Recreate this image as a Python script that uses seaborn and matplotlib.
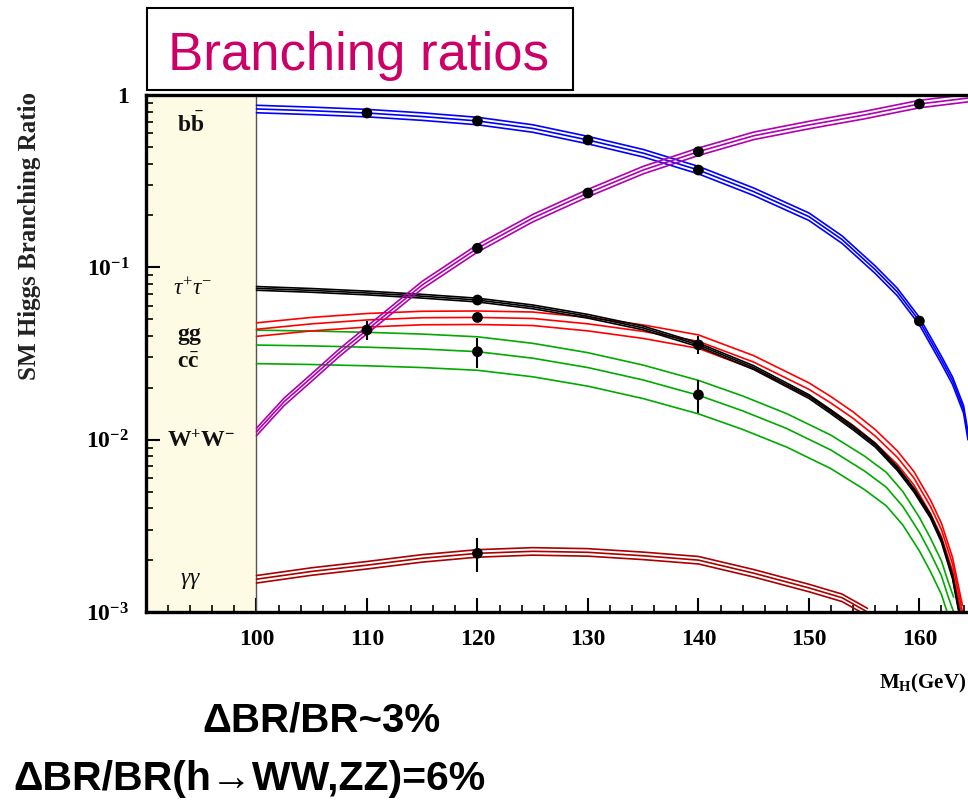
import matplotlib
matplotlib.use("Agg")
import matplotlib.pyplot as plt
import matplotlib.ticker as mticker
from matplotlib.patches import Rectangle
import seaborn as sns
import numpy as np
import pandas as pd

# --- curves (central values) ---
m_bb = [100, 105, 110, 115, 120, 125, 130, 135, 140, 145, 150, 153, 156, 158, 160, 162, 163, 164, 164.4]
br_bb = [0.83, 0.81, 0.786, 0.75, 0.707, 0.64, 0.548, 0.46, 0.367, 0.275, 0.197, 0.145, 0.097, 0.072, 0.0488, 0.029, 0.022, 0.015, 0.0105]

m_ww = [100, 102.5, 105, 107.5, 110, 115, 120, 125, 130, 135, 140, 145, 150, 155, 160, 164.4]
br_ww = [0.0111, 0.0166, 0.023, 0.032, 0.0433, 0.079, 0.129, 0.193, 0.27, 0.367, 0.469, 0.58, 0.67, 0.765, 0.887, 0.96]

m_tt = [100, 105, 110, 115, 120, 125, 130, 135, 140, 145, 150, 152, 154, 156, 158, 159.5, 161, 162, 163, 163.6]
br_tt = [0.0755, 0.0735, 0.071, 0.068, 0.0646, 0.059, 0.052, 0.0445, 0.0355, 0.0262, 0.0178, 0.0145, 0.0117, 0.0093, 0.0068, 0.0051, 0.0036, 0.0026, 0.0016, 0.001]

m_gg = [100, 105, 110, 115, 120, 125, 130, 135, 140, 145, 150, 152, 154, 156, 158, 159.5, 161, 162, 163, 163.9]
br_gg = [0.0437, 0.047, 0.0495, 0.051, 0.0512, 0.0505, 0.047, 0.0425, 0.0372, 0.0282, 0.0196, 0.0163, 0.0133, 0.0105, 0.0079, 0.006, 0.0041, 0.003, 0.0019, 0.001]

m_cc = [100, 105, 110, 115, 120, 125, 130, 135, 140, 144, 148, 152, 155, 157, 158.5, 160, 161, 162, 162.6, 163.1]
br_cc = [0.0354, 0.035, 0.0344, 0.0336, 0.0324, 0.0297, 0.0262, 0.0222, 0.0181, 0.0147, 0.0116, 0.0087, 0.0066, 0.0053, 0.0041, 0.0029, 0.0022, 0.00162, 0.00123, 0.001]

m_aa = [100, 105, 110, 115, 120, 125, 130, 135, 140, 145, 150, 153, 155.3]
br_aa = [0.00155, 0.00172, 0.00187, 0.00205, 0.00219, 0.00225, 0.00222, 0.00212, 0.002, 0.00168, 0.00138, 0.00121, 0.001]

# relative half width of each band
band_err = {"bb": 0.05, "ww": 0.05, "tt": 0.025, "gg": 0.09, "cc": 0.22, "aa": 0.05}
colors = {"bb": "#0000ff", "ww": "#b000b0", "tt": "#000000", "gg": "#ff0000", "cc": "#00aa00", "aa": "#aa0000"}

# measured points with relative errors
pt_mass = [110, 120, 130, 140, 160, 110, 120, 130, 140, 160, 120, 140, 120, 120, 140, 120]
pt_br = [0.786, 0.707, 0.548, 0.367, 0.0488, 0.0433, 0.129, 0.27, 0.469, 0.887, 0.0646, 0.0355, 0.0512, 0.0324, 0.0182, 0.00219]
pt_relerr = [0.03, 0.03, 0.03, 0.03, 0.04, 0.12, 0.04, 0.03, 0.03, 0.03, 0.04, 0.12, 0.04, 0.2, 0.22, 0.22]

# channel labels in the shaded box
lab_text = [r"$\mathbf{b\bar{b}}$", r"$\tau^{+}\tau^{-}$", r"$\mathbf{gg}$", r"$\mathbf{c\bar{c}}$", r"$\mathbf{W^{+}W^{-}}$", r"$\gamma\gamma$"]
lab_y = [0.67, 0.075, 0.0395, 0.0282, 0.0098, 0.00153]
lab_x = [94.0, 94.2, 94.0, 93.8, 95.0, 94.0]

y_ticks = [1e-3, 1e-2, 1e-1, 1]
y_ticklabels = [r"$\mathbf{10^{-3}}$", r"$\mathbf{10^{-2}}$", r"$\mathbf{10^{-1}}$", r"$\mathbf{1}$"]
x_ticks = [100, 110, 120, 130, 140, 150, 160]

sns.set_style("ticks")
plt.rcParams["font.family"] = ["Liberation Serif", "DejaVu Serif"]
plt.rcParams["mathtext.fontset"] = "custom"
plt.rcParams["mathtext.rm"] = "Liberation Serif"
plt.rcParams["mathtext.it"] = "Liberation Serif:italic"
plt.rcParams["mathtext.bf"] = "Liberation Serif:bold"
plt.rcParams["text.color"] = "black"
plt.rcParams["xtick.color"] = "black"
plt.rcParams["ytick.color"] = "black"
plt.rcParams["axes.edgecolor"] = "black"

curves = {"bb": (m_bb, br_bb), "ww": (m_ww, br_ww), "tt": (m_tt, br_tt),
          "gg": (m_gg, br_gg), "cc": (m_cc, br_cc), "aa": (m_aa, br_aa)}
rows = []
for ch, (m, br) in curves.items():
    e = band_err[ch]
    for band, f in (("lo", 1 - e), ("mid", 1.0), ("hi", 1 + e)):
        for mi, bi in zip(m, br):
            rows.append({"channel": ch, "band": band, "M": mi, "BR": bi * f})
df = pd.DataFrame(rows)

fig = plt.figure(figsize=(9.68, 8.10), dpi=100)
ax = fig.add_axes([146 / 968, 1 - 612 / 810, 822 / 968, 517 / 810])

ax.axvspan(90, 100, color="#fdfbe4", zorder=0)
ax.axvline(100, color="#555555", lw=1.0, zorder=1)

for ch in ["cc", "gg", "tt", "aa", "bb", "ww"]:
    sub = df[df["channel"] == ch]
    sns.lineplot(data=sub, x="M", y="BR", units="band", estimator=None, sort=False,
                 color=colors[ch], lw=1.2, ax=ax, legend=False)

pts = pd.DataFrame({"M": pt_mass, "BR": pt_br, "err": pt_relerr})
ax.vlines(pts["M"], pts["BR"] * (1 - pts["err"]), pts["BR"] * (1 + pts["err"]), color="black", lw=1.5, zorder=5)
sns.scatterplot(data=pts, x="M", y="BR", color="black", s=60, edgecolor="none", ax=ax, zorder=6)

for t, xx, yy in zip(lab_text, lab_x, lab_y):
    ax.text(xx, yy, t, fontsize=17, ha="center", va="center", color="#111111")

ax.set_yscale("log")
ax.set_xlim(90, 164.4)
ax.set_ylim(1e-3, 1)
ax.yaxis.set_major_locator(mticker.FixedLocator(y_ticks))
ax.set_yticklabels(y_ticklabels)
ax.yaxis.set_minor_locator(mticker.LogLocator(base=10, subs=np.arange(2, 10)))
ax.yaxis.set_minor_formatter(mticker.NullFormatter())
ax.xaxis.set_major_locator(mticker.FixedLocator(x_ticks))
ax.set_xticklabels([str(v) for v in x_ticks], fontweight="bold")
ax.xaxis.set_minor_locator(mticker.MultipleLocator(2))
ax.tick_params(axis="both", which="major", direction="in", length=10, width=1.5, labelsize=17, pad=12)
ax.tick_params(axis="both", which="minor", direction="in", length=5, width=1.2)
ax.tick_params(top=False, right=False, which="both")
ax.set_xlabel("")
ax.set_ylabel("")
for s in ["left", "bottom", "top"]:
    ax.spines[s].set_linewidth(2.4)
ax.spines["right"].set_visible(False)

fig.text(30 / 968, 1 - 236 / 810, "SM Higgs Branching Ratio", rotation=90, fontsize=18,
         fontweight="bold", color="#222222", ha="center", va="center")
fig.text(0.998, 1 - 688 / 810, r"$\mathbf{M_{H}}$" + "(GeV)", fontsize=15, fontweight="bold",
         ha="right", va="baseline")

# title box
fig.patches.append(Rectangle((147 / 968, 1 - 90 / 810), 426 / 968, 82 / 810, transform=fig.transFigure,
                             fill=False, lw=1.5, ec="black"))
fig.text(359 / 968, 1 - 70 / 810, "Branching ratios", family=["Liberation Sans", "DejaVu Sans"],
         fontsize=38, color="#cc0066", ha="center", va="baseline")

fig.text(202 / 968, 1 - 732 / 810, "ΔBR/BR~3%", family=["Liberation Sans", "DejaVu Sans"],
         fontsize=29, fontweight="bold", color="black", ha="left", va="baseline")
fig.text(13 / 968, 1 - 790 / 810, "ΔBR/BR(h→WW,ZZ)=6%", family=["Liberation Sans", "DejaVu Sans"],
         fontsize=29.5, fontweight="bold", color="black", ha="left", va="baseline")

fig.savefig("out.png", dpi=100)
